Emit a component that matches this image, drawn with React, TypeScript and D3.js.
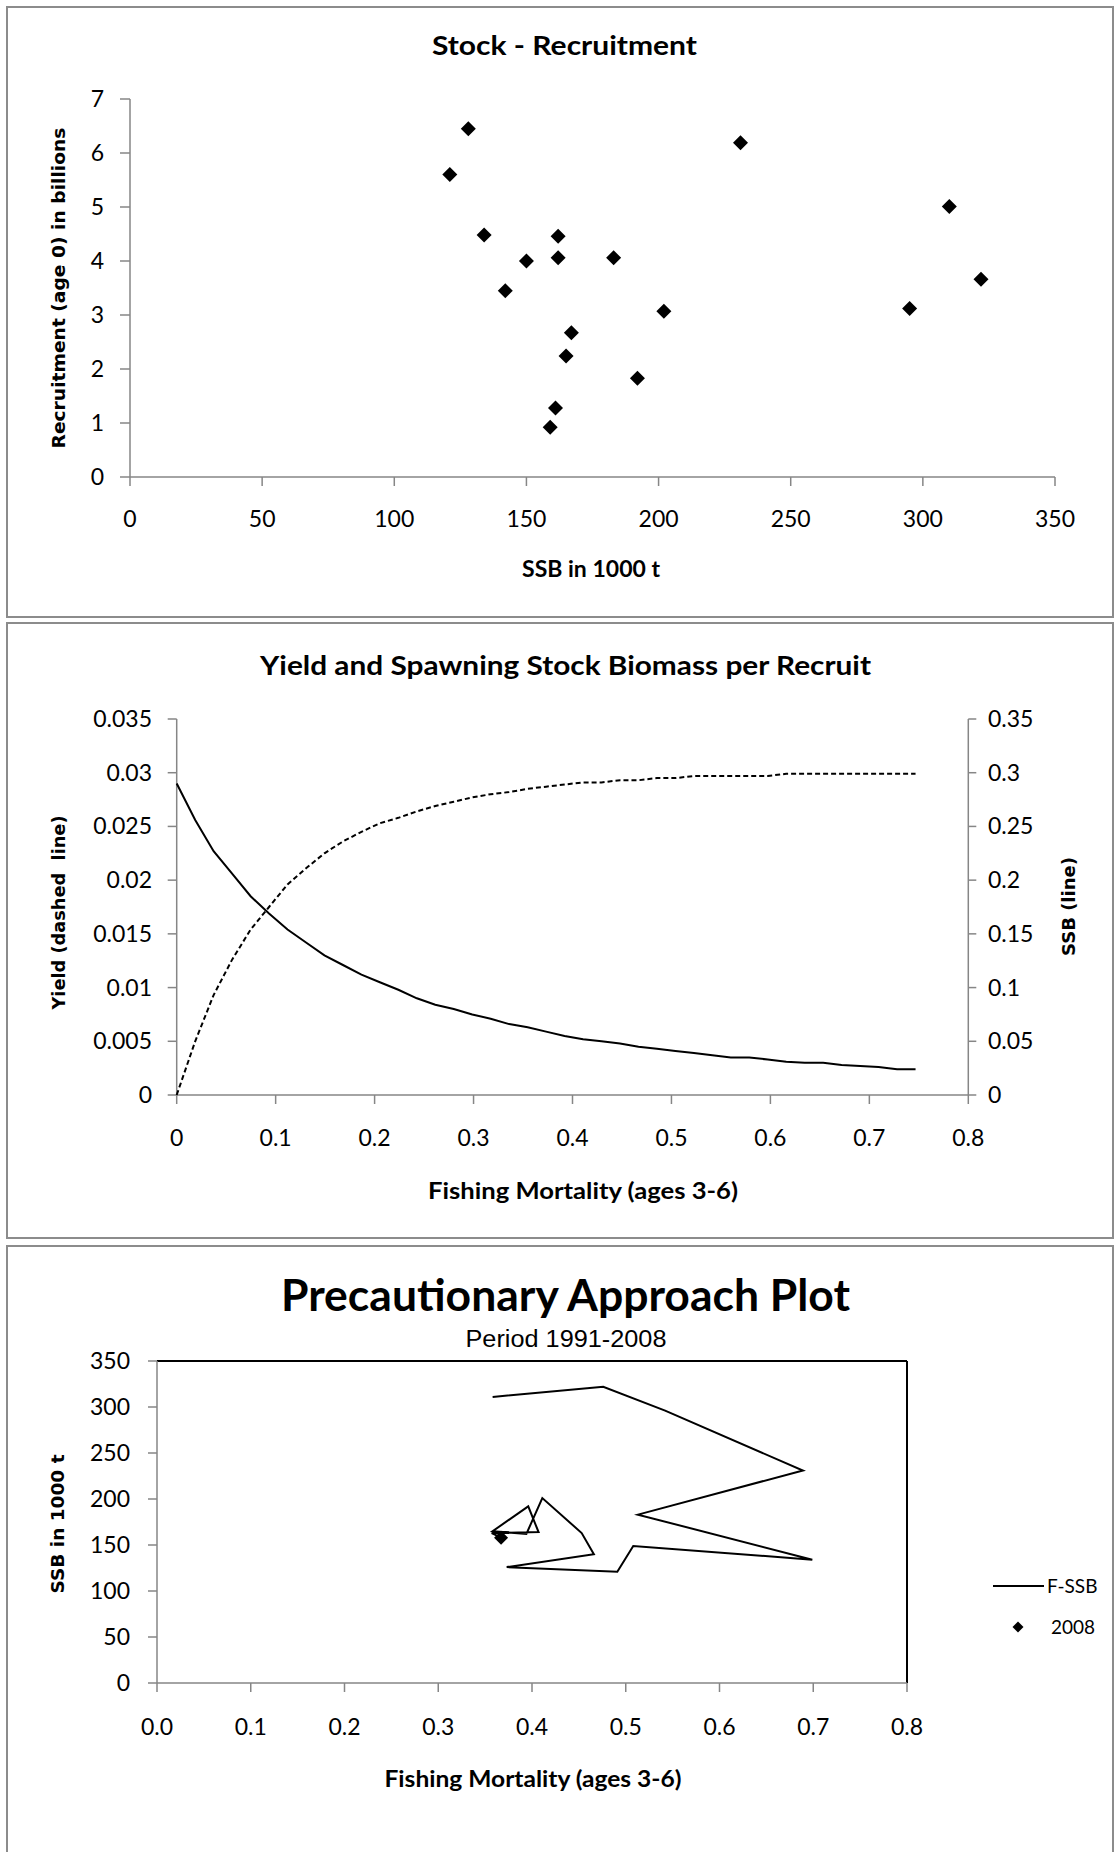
import React from "react";
import * as d3 from "d3";

// ---------- Panel 1: Stock - Recruitment ----------
const srSSB = [121, 128, 134, 142, 150, 162, 162, 183, 159, 161, 165, 167, 192, 202, 231, 295, 310, 322];
const srRec = [5.6, 6.45, 4.48, 3.45, 4.0, 4.06, 4.46, 4.06, 0.92, 1.28, 2.24, 2.67, 1.83, 3.07, 6.19, 3.12, 5.01, 3.66];
const srXTicks = [0, 50, 100, 150, 200, 250, 300, 350];
const srYTicks = [0, 1, 2, 3, 4, 5, 6, 7];

// ---------- Panel 2: Yield and SSB per recruit ----------
const yprF = [
  0, 0.0187, 0.0373, 0.056, 0.0747, 0.0933, 0.112, 0.1307, 0.1493, 0.168, 0.1867,
  0.2053, 0.224, 0.2427, 0.2613, 0.28, 0.2987, 0.3173, 0.336, 0.3547, 0.3733,
  0.392, 0.4107, 0.4293, 0.448, 0.4667, 0.4853, 0.504, 0.5227, 0.5413, 0.56,
  0.5787, 0.5973, 0.616, 0.6347, 0.6533, 0.672, 0.6907, 0.7093, 0.728, 0.7467,
];
const yprYield = [
  0, 0.005, 0.0093, 0.0126, 0.0154, 0.0175, 0.0196, 0.0211, 0.0225, 0.0236, 0.0245,
  0.0253, 0.0258, 0.0264, 0.0269, 0.0273, 0.0277, 0.028, 0.0282, 0.0285, 0.0287,
  0.0289, 0.0291, 0.0291, 0.0293, 0.0293, 0.0295, 0.0295, 0.0297, 0.0297, 0.0297,
  0.0297, 0.0297, 0.0299, 0.0299, 0.0299, 0.0299, 0.0299, 0.0299, 0.0299, 0.0299,
];
const yprSSB = [
  0.29, 0.256, 0.227, 0.206, 0.185, 0.169, 0.154, 0.142, 0.13, 0.121, 0.112,
  0.105, 0.098, 0.09, 0.084, 0.08, 0.075, 0.071, 0.066, 0.063, 0.059,
  0.055, 0.052, 0.05, 0.048, 0.045, 0.043, 0.041, 0.039, 0.037, 0.035,
  0.035, 0.033, 0.031, 0.03, 0.03, 0.028, 0.027, 0.026, 0.024, 0.024,
];
const yprXTicks = [0, 0.1, 0.2, 0.3, 0.4, 0.5, 0.6, 0.7, 0.8];
const yprLeftTicks = [0, 0.005, 0.01, 0.015, 0.02, 0.025, 0.03, 0.035];
const yprRightTicks = [0, 0.05, 0.1, 0.15, 0.2, 0.25, 0.3, 0.35];

// ---------- Panel 3: Precautionary approach ----------
const paF = [0.358, 0.476, 0.542, 0.689, 0.513, 0.699, 0.508, 0.491, 0.373, 0.466, 0.453, 0.411, 0.394, 0.358, 0.396, 0.407, 0.357, 0.367];
const paSSB = [311, 322, 296, 231, 183, 134, 149, 121, 126, 140, 163, 201, 162, 165, 192, 164, 163, 158];
const paLastF = 0.367;
const paLastSSB = 158;
const paXTicks = [0, 0.1, 0.2, 0.3, 0.4, 0.5, 0.6, 0.7, 0.8];
const paYTicks = [0, 50, 100, 150, 200, 250, 300, 350];

const FONT = "Lato, 'Open Sans', sans-serif";
const YFONT = "'DejaVu Sans', Verdana, sans-serif";
const SUBFONT = "'Liberation Sans', Arial, sans-serif";
const AXIS = "#868686";
const BORDER = "#8c8c8c";
const TICK_FS = 23;

const diamond = (s: number) => {
  const p = d3.path();
  p.moveTo(0, -s);
  p.lineTo(s, 0);
  p.lineTo(0, s);
  p.lineTo(-s, 0);
  p.closePath();
  return p.toString();
};

type TProps = { x: number; y: number; len: number; size: number; bold?: boolean; family?: string; rot?: boolean; children: string };
function Fit({ x, y, len, size, bold, family, rot, children }: TProps) {
  return (
    <text
      transform={rot ? `translate(${x},${y}) rotate(-90)` : undefined}
      x={rot ? 0 : x}
      y={rot ? 0 : y}
      textAnchor="middle"
      fontFamily={family || FONT}
      fontWeight={bold ? "bold" : "normal"}
      fontSize={size}
      textLength={len}
      lengthAdjust="spacingAndGlyphs"
      style={{ whiteSpace: "pre" }}
    >
      {children}
    </text>
  );
}

function Panel1() {
  const x = d3.scaleLinear().domain([0, 350]).range([130, 1055]);
  const y = d3.scaleLinear().domain([0, 7]).range([477, 99]);
  return (
    <g>
      <rect x={7} y={7} width={1106} height={610} fill="none" stroke={BORDER} strokeWidth={2} />
      <Fit x={564.5} y={55} len={265} size={27} bold>Stock - Recruitment</Fit>
      <line x1={x(0)} x2={x(0)} y1={y(7)} y2={y(0)} stroke={AXIS} strokeWidth={1.5} />
      <line x1={x(0)} x2={x(350)} y1={y(0)} y2={y(0)} stroke={AXIS} strokeWidth={1.5} />
      {srYTicks.map((t) => (
        <g key={"y" + t}>
          <line x1={x(0) - 10} x2={x(0)} y1={y(t)} y2={y(t)} stroke={AXIS} strokeWidth={1.5} />
          <text x={104} y={y(t) + 8} textAnchor="end" fontFamily={FONT} fontSize={TICK_FS}>{t}</text>
        </g>
      ))}
      {srXTicks.map((t) => (
        <g key={"x" + t}>
          <line x1={x(t)} x2={x(t)} y1={y(0)} y2={y(0) + 9} stroke={AXIS} strokeWidth={1.5} />
          <text x={x(t)} y={527} textAnchor="middle" fontFamily={FONT} fontSize={TICK_FS}>{t}</text>
        </g>
      ))}
      {srSSB.map((s, i) => (
        <path key={i} d={diamond(7.5)} transform={`translate(${x(s)},${y(srRec[i])})`} fill="#000" />
      ))}
      <Fit x={591} y={577} len={138} size={22} bold>SSB in 1000 t</Fit>
      <Fit x={65} y={288} len={321} size={17.5} bold family={YFONT} rot>Recruitment (age 0) in billions</Fit>
    </g>
  );
}

function Panel2() {
  const x = d3.scaleLinear().domain([0, 0.8]).range([176.7, 968.3]);
  const yL = d3.scaleLinear().domain([0, 0.035]).range([1095, 719]);
  const yR = d3.scaleLinear().domain([0, 0.35]).range([1095, 719]);
  const lineY = d3.line<number>().x((_, i) => x(yprF[i])).y((v) => yL(v));
  const lineS = d3.line<number>().x((_, i) => x(yprF[i])).y((v) => yR(v));
  return (
    <g>
      <rect x={7} y={623} width={1106} height={615} fill="none" stroke={BORDER} strokeWidth={2} />
      <Fit x={565.5} y={675} len={611} size={27} bold>Yield and Spawning Stock Biomass per Recruit</Fit>
      <line x1={x(0)} x2={x(0)} y1={yL(0.035)} y2={yL(0)} stroke={AXIS} strokeWidth={1.5} />
      <line x1={x(0.8)} x2={x(0.8)} y1={yL(0.035)} y2={yL(0)} stroke={AXIS} strokeWidth={1.5} />
      <line x1={x(0)} x2={x(0.8)} y1={yL(0)} y2={yL(0)} stroke={AXIS} strokeWidth={1.5} />
      {yprLeftTicks.map((t) => (
        <g key={"l" + t}>
          <line x1={x(0) - 9} x2={x(0)} y1={yL(t)} y2={yL(t)} stroke={AXIS} strokeWidth={1.5} />
          <text x={152} y={yL(t) + 8} textAnchor="end" fontFamily={FONT} fontSize={TICK_FS}>{String(t)}</text>
        </g>
      ))}
      {yprRightTicks.map((t) => (
        <g key={"r" + t}>
          <line x1={x(0.8)} x2={x(0.8) + 8} y1={yR(t)} y2={yR(t)} stroke={AXIS} strokeWidth={1.5} />
          <text x={988} y={yR(t) + 8} textAnchor="start" fontFamily={FONT} fontSize={TICK_FS}>{String(t)}</text>
        </g>
      ))}
      {yprXTicks.map((t) => (
        <g key={"x" + t}>
          <line x1={x(t)} x2={x(t)} y1={yL(0)} y2={yL(0) + 9} stroke={AXIS} strokeWidth={1.5} />
          <text x={x(t)} y={1146} textAnchor="middle" fontFamily={FONT} fontSize={TICK_FS}>{String(t)}</text>
        </g>
      ))}
      <path d={lineY(yprYield) || ""} fill="none" stroke="#000" strokeWidth={2} strokeDasharray="5,3" />
      <path d={lineS(yprSSB) || ""} fill="none" stroke="#000" strokeWidth={2} />
      <Fit x={583} y={1199} len={310} size={22} bold>Fishing Mortality (ages 3-6)</Fit>
      <Fit x={65} y={912.5} len={194} size={17.5} bold family={YFONT} rot>{"Yield (dashed  line)"}</Fit>
      <Fit x={1075} y={906.5} len={99} size={17.5} bold family={YFONT} rot>SSB (line)</Fit>
    </g>
  );
}

function Panel3() {
  const x = d3.scaleLinear().domain([0, 0.8]).range([157, 907]);
  const y = d3.scaleLinear().domain([0, 350]).range([1683, 1361]);
  const line = d3.line<number>().x((v) => x(v)).y((_, i) => y(paSSB[i]));
  return (
    <g>
      <rect x={7} y={1246} width={1106} height={612} fill="none" stroke={BORDER} strokeWidth={2} />
      <Fit x={565.5} y={1311} len={569} size={43} bold>Precautionary Approach Plot</Fit>
      <Fit x={566} y={1347} len={201} size={23} family={SUBFONT}>Period 1991-2008</Fit>
      <line x1={x(0)} x2={x(0.8)} y1={y(350)} y2={y(350)} stroke="#000" strokeWidth={2} />
      <line x1={x(0.8)} x2={x(0.8)} y1={y(350)} y2={y(0)} stroke="#000" strokeWidth={2} />
      <line x1={x(0)} x2={x(0)} y1={y(350)} y2={y(0)} stroke={AXIS} strokeWidth={1.5} />
      <line x1={x(0)} x2={x(0.8)} y1={y(0)} y2={y(0)} stroke={AXIS} strokeWidth={1.5} />
      {paYTicks.map((t) => (
        <g key={"y" + t}>
          <line x1={x(0) - 9} x2={x(0)} y1={y(t)} y2={y(t)} stroke={AXIS} strokeWidth={1.5} />
          <text x={130} y={y(t) + 8} textAnchor="end" fontFamily={FONT} fontSize={TICK_FS}>{t}</text>
        </g>
      ))}
      {paXTicks.map((t) => (
        <g key={"x" + t}>
          <line x1={x(t)} x2={x(t)} y1={y(0)} y2={y(0) + 9} stroke={AXIS} strokeWidth={1.5} />
          <text x={x(t)} y={1735} textAnchor="middle" fontFamily={FONT} fontSize={TICK_FS}>{t.toFixed(1)}</text>
        </g>
      ))}
      <path d={line(paF) || ""} fill="none" stroke="#000" strokeWidth={2} strokeLinejoin="miter" />
      <path d={diamond(7)} transform={`translate(${x(paLastF)},${y(paLastSSB)})`} fill="#000" />
      <Fit x={533} y={1787} len={297} size={22} bold>Fishing Mortality (ages 3-6)</Fit>
      <Fit x={64} y={1524} len={139} size={17.5} bold family={YFONT} rot>SSB in 1000 t</Fit>
      <line x1={993} x2={1044} y1={1586} y2={1586} stroke="#000" strokeWidth={2} />
      <text x={1047} y={1593} fontFamily={FONT} fontSize={19}>F-SSB</text>
      <path d={diamond(5.5)} transform="translate(1018,1627)" fill="#000" />
      <text x={1051} y={1634} fontFamily={FONT} fontSize={19}>2008</text>
    </g>
  );
}

export default function App() {
  return (
    <svg
      width={1115}
      height={1852}
      viewBox="0 0 1115 1852"
      style={{ position: "absolute", left: 0, top: 0, background: "#fff" }}
    >
      <rect x={0} y={0} width={1115} height={1852} fill="#fff" />
      <Panel1 />
      <Panel2 />
      <Panel3 />
    </svg>
  );
}
